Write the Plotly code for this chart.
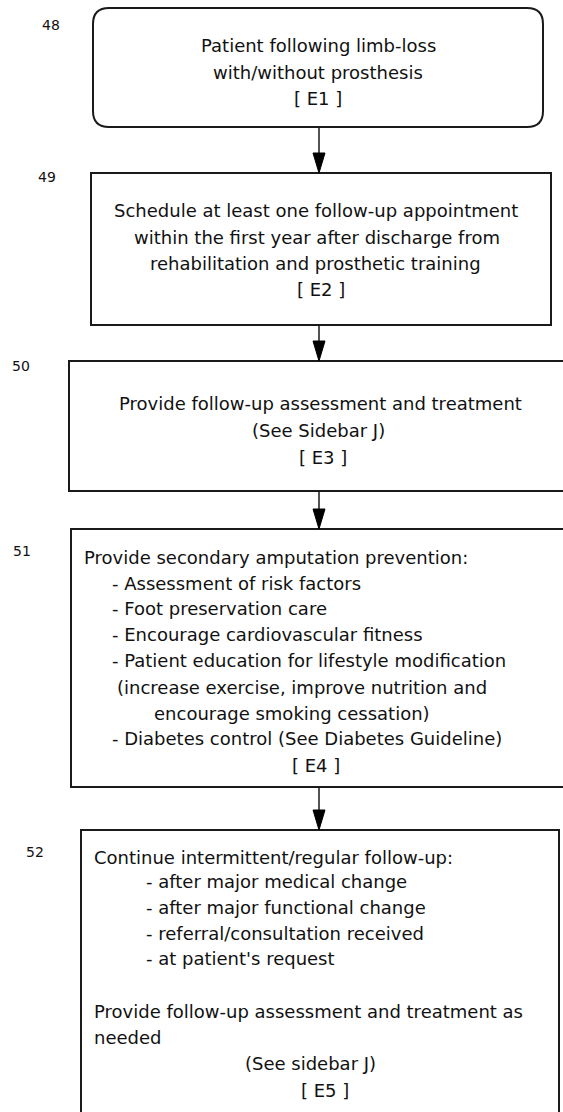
import plotly.graph_objects as go

# ---------------- data (text content) ----------------
step_numbers = ["48", "49", "50", "51", "52"]

box1_lines = ["Patient following limb-loss", "with/without prosthesis", "[ E1 ]"]
box2_lines = ["Schedule at least one follow-up appointment",
              "within the first year after discharge from",
              "rehabilitation and prosthetic training",
              "[ E2 ]"]
box3_lines = ["Provide follow-up assessment and treatment",
              "(See Sidebar J)",
              "[ E3 ]"]
box4_lines = ["Provide secondary amputation prevention:",
              "- Assessment of risk factors",
              "- Foot preservation care",
              "- Encourage cardiovascular fitness",
              "- Patient education for lifestyle modification",
              "(increase exercise, improve nutrition and",
              "encourage smoking cessation)",
              "- Diabetes control (See Diabetes Guideline)",
              "[ E4 ]"]
box5_lines = ["Continue intermittent/regular follow-up:",
              "- after major medical change",
              "- after major functional change",
              "- referral/consultation received",
              "- at patient's request",
              "Provide follow-up assessment and treatment as",
              "needed",
              "(See sidebar J)",
              "[ E5 ]"]

# ---------------- layout geometry (pixels, y downwards) ----------------
W, H = 563, 1112
ARROW_X = 319
boxes = [  # x0, x1, y0, y1, rounded
    dict(x0=93, x1=543, y0=8, y1=127, rounded=True),
    dict(x0=91, x1=551, y0=173, y1=325, rounded=False),
    dict(x0=69, x1=575, y0=361, y1=491, rounded=False),
    dict(x0=71, x1=575, y0=529, y1=787, rounded=False),
    dict(x0=81, x1=559, y0=830, y1=1130, rounded=False),
]
number_pos = [(51, 25), (47, 177), (21, 366), (22, 551), (35, 852)]

# per-line placement: (x, y, anchor)
box1_pos = [(318, 45, "center"), (318, 72, "center"), (318, 98, "center")]
box2_pos = [(316, 210, "center"), (317, 237, "center"), (315, 263, "center"), (321, 289, "center")]
box3_pos = [(320, 403, "center"), (318, 430, "center"), (323, 457, "center")]
box4_pos = [(82, 557, "left"), (110, 583, "left"), (110, 608, "left"), (110, 634, "left"),
            (110, 660, "left"), (115, 687, "left"), (152, 713, "left"), (110, 738, "left"),
            (316, 765, "center")]
box5_pos = [(92, 857, "left"), (144, 881, "left"), (144, 907, "left"), (144, 933, "left"),
            (144, 958, "left"), (92, 1011, "left"), (92, 1037, "left"),
            (310, 1063, "center"), (325, 1090, "center")]

FONT = "DejaVu Sans"
TEXT_SIZE = 18
NUM_SIZE = 14
LINE_COLOR = "#1a1a1a"

fig = go.Figure()
fig.add_trace(go.Scatter(x=[0, W], y=[0, H], mode="markers",
                         marker=dict(opacity=0), hoverinfo="skip", showlegend=False))

shapes = []
for b in boxes:
    if b["rounded"]:
        r = 16
        x0, x1, y0, y1 = b["x0"], b["x1"], b["y0"], b["y1"]
        path = (f"M {x0+r},{y0} L {x1-r},{y0} Q {x1},{y0} {x1},{y0+r} "
                f"L {x1},{y1-r} Q {x1},{y1} {x1-r},{y1} L {x0+r},{y1} "
                f"Q {x0},{y1} {x0},{y1-r} L {x0},{y0+r} Q {x0},{y0} {x0+r},{y0} Z")
        shapes.append(dict(type="path", path=path, xref="x", yref="y",
                           line=dict(color=LINE_COLOR, width=2), fillcolor="rgba(0,0,0,0)"))
    else:
        shapes.append(dict(type="rect", xref="x", yref="y", x0=b["x0"], x1=b["x1"],
                           y0=b["y0"], y1=b["y1"], line=dict(color=LINE_COLOR, width=2)))

# connectors with arrowheads
for upper, lower in zip(boxes[:-1], boxes[1:]):
    ya, yb = upper["y1"], lower["y0"]
    shapes.append(dict(type="line", xref="x", yref="y", x0=ARROW_X, x1=ARROW_X,
                       y0=ya, y1=yb - 18, line=dict(color=LINE_COLOR, width=1.5)))
    shapes.append(dict(type="path", xref="x", yref="y",
                       path=f"M {ARROW_X-6},{yb-20} L {ARROW_X+6},{yb-20} L {ARROW_X},{yb} Z",
                       fillcolor="#000", line=dict(color="#000", width=1)))

annotations = []
for num, (x, y) in zip(step_numbers, number_pos):
    annotations.append(dict(x=x, y=y, text=num, showarrow=False, xanchor="center",
                            yanchor="middle", font=dict(family=FONT, size=NUM_SIZE, color="#111")))

for lines, pos in [(box1_lines, box1_pos), (box2_lines, box2_pos), (box3_lines, box3_pos),
                   (box4_lines, box4_pos), (box5_lines, box5_pos)]:
    for txt, (x, y, anc) in zip(lines, pos):
        annotations.append(dict(x=x, y=y, text=txt, showarrow=False, xanchor=anc,
                                yanchor="middle",
                                font=dict(family=FONT, size=TEXT_SIZE, color="#111")))

fig.update_layout(
    width=W, height=H, margin=dict(l=0, r=0, t=0, b=0),
    paper_bgcolor="white", plot_bgcolor="white",
    xaxis=dict(range=[0, W], visible=False, fixedrange=True),
    yaxis=dict(range=[H, 0], visible=False, fixedrange=True),
    shapes=shapes, annotations=annotations, showlegend=False,
)

fig.write_html("out.html", config={"displayModeBar": False},
               post_script="document.body.style.margin='0px';")
